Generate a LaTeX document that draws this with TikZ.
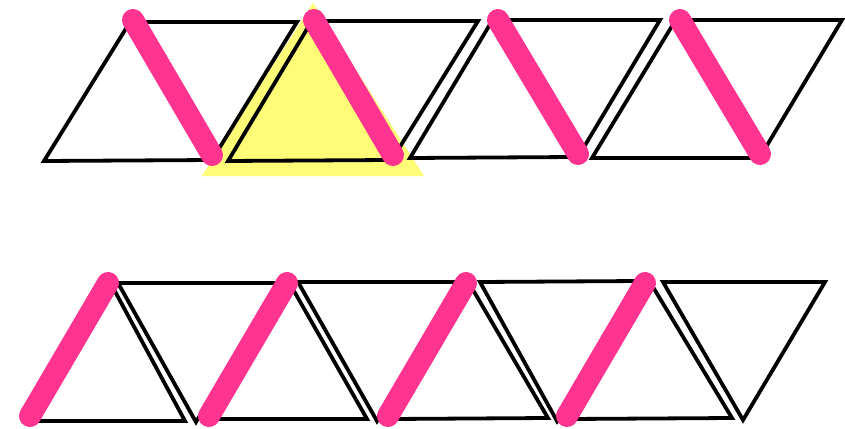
\documentclass[tikz,border=0pt]{standalone}
\usepackage{xcolor}
\usepackage{tikz}

\definecolor{hotpink}{RGB}{255,51,144}
\definecolor{softyellow}{RGB}{255,252,120}

\begin{document}
\begin{tikzpicture}[x=1pt,y=-1pt,
  tri/.style={draw=black,line width=3.8pt,line join=miter},
  hinge/.style={draw=hotpink,line width=22pt,line cap=round},
  glow/.style={fill=softyellow,draw=none}
]
\useasboundingbox (0,0) rectangle (845,428);

% Highlight
\fill[glow] (202,176) -- (313,3) -- (424,176) -- cycle;

% Top row
\draw[tri] (44,161) -- (130,22) -- (212,160) -- cycle;
\draw[tri] (130,22) -- (297,22) -- (212,160) -- cycle;
\draw[tri] (228,161) -- (310,24) -- (389,160) -- cycle;
\draw[tri] (313,21) -- (478,21) -- (393,158) -- cycle;
\draw[tri] (410,158) -- (492,21) -- (574,157) -- cycle;
\draw[tri] (498,20) -- (660,20) -- (578,157) -- cycle;
\draw[tri] (592,158) -- (675,21) -- (755,158) -- cycle;
\draw[tri] (680,20) -- (842,20) -- (760,157) -- cycle;

% Bottom row
\draw[tri] (35,421) -- (111,284) -- (185,421) -- cycle;
\draw[tri] (118,283) -- (280,283) -- (196,422) -- cycle;
\draw[tri] (212,419) -- (290,284) -- (367,419) -- cycle;
\draw[tri] (298,282) -- (460,282) -- (377,421) -- cycle;
\draw[tri] (392,419) -- (469,283) -- (548,418) -- cycle;
\draw[tri] (480,282) -- (640,281) -- (557,421) -- cycle;
\draw[tri] (570,419) -- (650,282) -- (732,418) -- cycle;
\draw[tri] (663,282) -- (825,282) -- (743,420) -- cycle;

% Hinges
\draw[hinge] (133,20) -- (212,155);
\draw[hinge] (314,20) -- (393,155);
\draw[hinge] (498,20) -- (578,154);
\draw[hinge] (680,20) -- (760,154);
\draw[hinge] (30,416) -- (108,283);
\draw[hinge] (209,416) -- (287,283);
\draw[hinge] (388,416) -- (466,283);
\draw[hinge] (567,416) -- (645,283);

\end{tikzpicture}
\end{document}
